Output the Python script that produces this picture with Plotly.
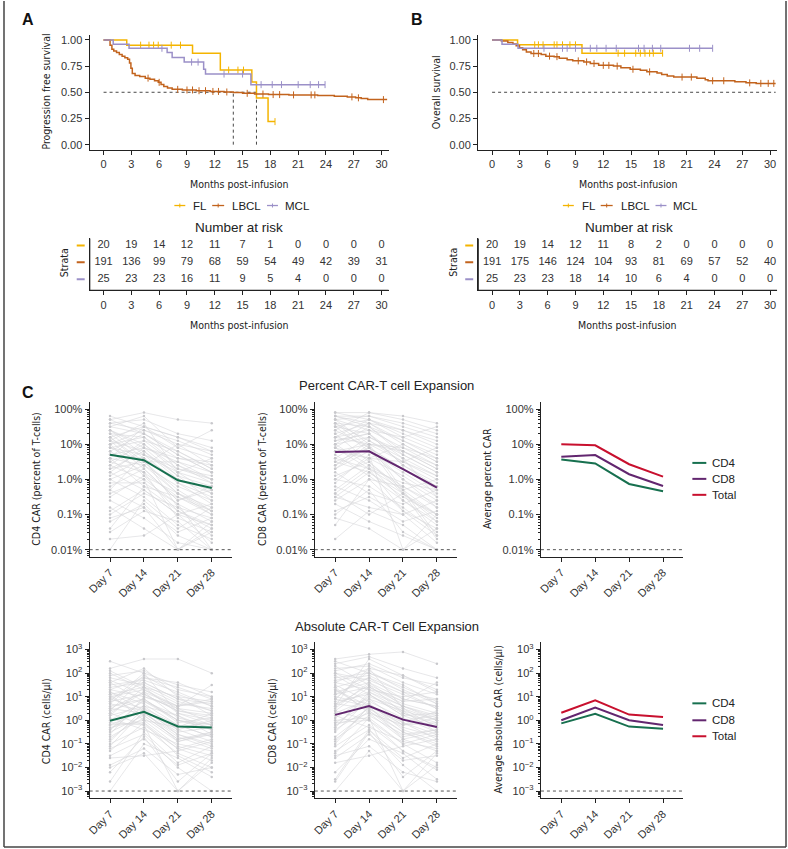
import plotly.graph_objects as go
import numpy as np

W, H = 788, 849
SANS = "Liberation Sans, Arial, sans-serif"
COND = "Liberation Sans Narrow, DejaVu Sans Condensed, Roboto Condensed, Roboto, sans-serif"
INK = "#222222"

FL_C = "#F4B400"
LBCL_C = "#C2631D"
MCL_C = "#9B90C8"
CD4_C = "#17704F"
CD8_C = "#62266F"
TOT_C = "#C8102E"
GRAY = "#D6D6DA"

# ---------------- Panel A: progression free survival ----------------
pfs_fl_t = [0, 2.5, 9.6, 12.6, 16.0, 16.5, 17.75, 18.5]
pfs_fl_s = [1.0, 0.95, 0.873, 0.712, 0.598, 0.446, 0.22, 0.22]
pfs_fl_cens = [4.0, 4.9, 5.4, 5.9, 7.3, 8.3, 13.5, 14.5, 15.1, 18.5]

pfs_lbcl_t = [0, 0.7, 0.9, 1.1, 1.4, 1.7, 2.0, 2.3, 2.6, 2.8, 2.95, 3.1, 3.4, 3.9, 4.5, 5.0, 5.5,
              5.9, 6.2, 6.5, 6.9, 7.4, 8.5, 10.0, 11.5, 13.0, 14.0, 15.0, 16.3, 17.8, 20.0, 23.1,
              24.9, 26.3, 27.2, 27.8, 28.5, 30.6]
pfs_lbcl_s = [1.0, 0.95, 0.91, 0.895, 0.88, 0.86, 0.845, 0.83, 0.815, 0.78, 0.73, 0.68, 0.66, 0.65,
              0.635, 0.625, 0.61, 0.595, 0.575, 0.555, 0.54, 0.528, 0.522, 0.515, 0.508, 0.503,
              0.497, 0.49, 0.483, 0.478, 0.475, 0.47, 0.463, 0.456, 0.447, 0.44, 0.43, 0.43]
pfs_lbcl_cens = [4.8, 6.0, 8.0, 9.0, 9.6, 10.3, 11.0, 11.8, 12.4, 13.3, 15.5, 17.2, 18.3, 19.0,
                 20.5, 22.4, 22.8, 26.8, 27.5, 30.2]

pfs_mcl_t = [0, 1.04, 2.75, 6.86, 7.4, 8.7, 10.8, 11.0, 15.9, 23.9]
pfs_mcl_s = [1.0, 0.959, 0.92, 0.88, 0.832, 0.788, 0.72, 0.674, 0.573, 0.573]
pfs_mcl_cens = [6.3, 9.5, 10.2, 13.0, 15.0, 17.0, 18.2, 19.2, 21.0, 22.3, 23.2, 23.9]

pfs_medians = [14.0, 16.5]

# ---------------- Panel B: overall survival ----------------
os_fl_t = [0, 2.75, 9.7, 18.4]
os_fl_s = [1.0, 0.953, 0.873, 0.873]
os_fl_cens = [4.6, 5.0, 5.5, 6.7, 7.0, 7.6, 8.4, 9.0, 13.6, 14.3, 15.5, 16.0, 16.5, 17.0, 17.4, 18.4]

os_lbcl_t = [0, 1.0, 1.7, 2.25, 2.6, 2.96, 3.3, 3.7, 4.2, 5.3, 5.8, 6.7, 7.25, 8.1, 8.7, 9.9,
             10.6, 11.5, 13.1, 13.9, 14.9, 16.0, 16.7, 17.8, 18.3, 18.9, 19.6, 22.1, 23.0, 23.3,
             26.2, 27.4, 28.5, 30.6]
os_lbcl_s = [1.0, 0.99, 0.975, 0.96, 0.945, 0.925, 0.905, 0.885, 0.87, 0.86, 0.845, 0.84, 0.825,
             0.81, 0.80, 0.79, 0.775, 0.757, 0.75, 0.735, 0.72, 0.71, 0.695, 0.685, 0.67, 0.655,
             0.645, 0.635, 0.62, 0.61, 0.60, 0.59, 0.585, 0.585]
os_lbcl_cens = [4.5, 5.0, 6.2, 7.0, 9.3, 10.2, 11.0, 12.0, 12.6, 13.5, 15.2, 17.0, 20.5, 21.5,
                23.8, 25.0, 27.8, 29.0, 29.8, 30.4]

os_mcl_t = [0, 1.07, 2.8, 23.8]
os_mcl_s = [1.0, 0.959, 0.92, 0.92]
os_mcl_cens = [5.6, 7.6, 8.1, 9.0, 10.6, 11.3, 12.3, 13.4, 15.8, 16.4, 17.3, 18.2, 21.3, 22.4, 23.8]

# ---------------- Number at risk ----------------
risk_times = [0, 3, 6, 9, 12, 15, 18, 21, 24, 27, 30]
risk_pfs_fl = [20, 19, 14, 12, 11, 7, 1, 0, 0, 0, 0]
risk_pfs_lbcl = [191, 136, 99, 79, 68, 59, 54, 49, 42, 39, 31]
risk_pfs_mcl = [25, 23, 23, 16, 11, 9, 5, 4, 0, 0, 0]
risk_os_fl = [20, 19, 14, 12, 11, 8, 2, 0, 0, 0, 0]
risk_os_lbcl = [191, 175, 146, 124, 104, 93, 81, 69, 57, 52, 40]
risk_os_mcl = [25, 23, 23, 18, 14, 10, 6, 4, 0, 0, 0]

strata = ["FL", "LBCL", "MCL"]

# ---------------- Panel C ----------------
days = ["Day 7", "Day 14", "Day 21", "Day 28"]

# individual patients, log10 values (percent of T-cells)
pct_cd4_log = [
    [1.6, 1.4, 1.0, 0.8], [1.2, 1.5, 0.9, 0.6], [0.9, 0.7, 0.2, -0.1], [0.3, 0.5, -0.4, -0.8],
    [-0.5, 0.1, -0.9, -1.3], [1.4, 0.9, 0.5, 0.2], [0.6, 0.4, -0.2, -0.6], [-1.2, -0.7, -1.6, -2.0],
    [1.0, 1.2, 0.6, 0.4], [0.2, -0.3, -1.0, -0.7], [1.7, 1.9, 1.7, 1.6], [0.8, 0.2, -0.5, -1.0],
    [-0.2, 0.3, -0.6, -0.3], [1.3, 0.6, 0.0, -0.4], [0.5, 1.0, 0.3, 0.1], [-0.8, -1.4, -2.0, -1.5],
    [1.1, 0.8, 0.1, -0.2], [0.0, -0.5, -1.3, -1.7], [1.5, 1.3, 0.8, 0.3], [0.4, 0.0, -0.7, -1.2],
    [-1.5, -0.9, -1.2, -2.0], [0.9, 1.1, 0.4, 0.0], [1.2, 0.5, -0.3, -0.9], [0.7, 0.9, 0.6, 0.5],
    [-0.3, -0.8, -1.5, -1.1], [1.8, 1.5, 1.2, 0.9], [0.1, 0.6, -0.1, -0.5], [0.6, -0.2, -0.9, -1.4],
    [1.0, 1.4, 1.1, 0.7], [-1.0, -0.4, -0.8, -1.6], [0.3, 0.8, 0.0, -0.3], [1.4, 1.0, 0.2, 0.6],
    [-0.6, -1.1, -1.8, -2.0], [0.8, 1.3, 0.7, 0.2], [1.1, 0.3, -0.6, -0.2], [-1.4, -0.2, -0.5, -0.9],
    [0.5, 0.2, -1.1, -1.5], [1.6, 1.7, 1.3, 1.1], [-2.0, -0.6, -1.4, -0.8], [0.2, 0.9, 0.1, -0.6],
    [1.2, 0.4, 1.0, 0.4], [-0.4, 0.0, -2.0, -1.2], [1.5, 1.8, 0.9, 1.4], [-1.7, -1.6, -1.0, -1.8],
    [0.4, 1.1, 0.8, 0.3], [-0.9, -0.3, -1.0, -1.3], [1.3, 1.2, 0.4, -0.1], [0.0, 0.4, -0.4, -1.0],
    [1.7, 1.3, 0.7, 0.2], [-0.3, 0.7, 0.3, 0.0], [0.7, 0.6, -0.8, -1.1], [1.0, 0.1, -0.4, -0.9],
    [-1.1, -0.8, -2.0, -1.4], [0.6, 1.5, 1.2, 0.8], [1.4, 0.7, -0.1, -0.7], [-0.1, -0.1, -0.7, -2.0],
    [0.9, 0.5, 0.5, 0.0], [1.1, 1.6, 0.2, -0.4],
]
pct_cd8_log = [
    [1.9, 1.9, 1.8, 1.6], [1.5, 1.7, 1.3, 0.9], [1.2, 1.0, 0.5, 0.0], [0.6, 1.2, 0.7, 0.2],
    [-0.4, 0.3, -0.3, -1.0], [1.7, 1.4, 0.9, 0.4], [0.9, 0.6, 0.1, -0.5], [-1.7, -0.9, -1.3, -2.0],
    [1.3, 1.6, 1.0, 0.5], [0.1, 0.5, -0.4, -1.2], [1.8, 1.8, 1.6, 1.3], [1.0, 0.4, -0.2, -0.8],
    [-0.6, 0.0, -0.9, -1.6], [1.4, 0.9, 0.3, -0.3], [0.4, 1.1, 0.6, 0.1], [-1.1, -1.4, -2.0, -1.4],
    [1.1, 1.3, 0.4, -0.1], [0.0, -0.2, -0.8, -1.5], [1.6, 1.5, 1.1, 0.7], [0.5, 0.2, -0.5, -1.0],
    [-0.9, -0.5, -1.0, -1.8], [1.0, 1.2, 0.8, 0.3], [1.5, 0.8, 0.0, -0.6], [0.8, 1.0, 0.9, 0.6],
    [-0.2, -0.6, -1.2, -0.9], [1.8, 1.6, 1.4, 1.0], [0.3, 0.8, 0.2, -0.4], [0.7, 0.1, -0.6, -1.3],
    [1.2, 1.4, 1.2, 0.8], [-0.5, 0.2, -0.4, -1.1], [0.4, 0.9, 0.3, -0.2], [1.6, 1.1, 0.5, 0.9],
    [-0.7, -1.2, -1.6, -2.0], [0.9, 1.5, 0.8, 0.4], [1.3, 0.5, -0.3, 0.0], [-1.3, 0.0, -0.2, -0.7],
    [0.6, 0.3, -0.9, -1.4], [1.7, 1.8, 1.5, 1.2], [0.2, -0.4, -0.7, -0.3], [1.1, 1.3, 0.6, -0.5],
    [0.8, 0.6, 1.0, 0.5], [-0.1, 0.7, -2.0, -1.0], [1.9, 1.7, 1.2, 1.5], [-0.4, -1.0, -0.4, -1.7],
    [1.4, 1.9, 1.7, 1.4], [-0.3, 0.4, -0.6, -1.2], [1.8, 1.5, 0.7, 0.2], [0.5, 0.9, 0.0, -0.8],
    [1.2, 1.7, 1.4, 1.1], [-1.0, -0.3, -1.5, -2.0], [0.9, 0.3, -0.1, -0.3], [1.5, 1.3, 0.4, -0.2],
    [0.0, 0.6, 0.5, 0.1], [1.6, 0.9, -0.4, -1.0], [-0.5, -0.8, -1.0, -0.6], [1.0, 1.6, 1.1, 0.6],
    [0.3, 1.0, -0.3, -1.6], [1.7, 1.0, 0.8, 0.3],
]
# individual patients, log10 values (cells/ul)
abs_cd4_log = [
    [2.5, 2.0, 1.5, 1.2], [1.6, 2.2, 1.0, 0.8], [1.0, 1.3, 0.5, 0.3], [0.4, 0.9, 0.0, -0.2],
    [-0.5, 0.2, -0.8, -0.6], [1.3, 1.0, 0.6, 0.9], [0.2, 0.6, -0.4, -0.9], [-1.5, -0.8, -1.9, -1.4],
    [1.5, 1.7, 1.2, 0.6], [-0.3, 0.0, -1.1, -1.5], [2.2, 2.6, 2.6, 2.0], [0.7, 0.4, -0.3, -0.1],
    [-1.0, -0.3, -1.4, -2.0], [1.1, 1.4, 0.3, 0.0], [0.0, 0.8, 0.2, -0.4], [-2.0, -1.4, -3.0, -1.8],
    [0.9, 0.5, -0.6, -1.0], [-0.7, 0.1, -0.9, -0.5], [1.8, 1.5, 0.8, 0.4], [0.3, -0.2, -1.2, -0.8],
    [-3.0, -1.0, -1.6, -2.4], [0.8, 1.1, 0.4, 0.2], [1.2, 0.7, -0.2, -0.7], [-0.2, 0.4, -0.5, -0.3],
    [-1.2, -0.6, -2.0, -3.0], [1.9, 2.1, 1.3, 1.0], [0.5, 1.2, 0.1, -0.2], [0.1, -0.4, -1.0, -1.3],
    [1.4, 1.6, 0.9, 0.7], [-0.8, 0.3, -0.7, -1.2], [0.6, 0.9, -0.1, 0.1], [-1.6, -1.5, -1.3, -0.9],
    [1.0, 0.2, -0.8, -0.5], [-0.4, 0.6, 0.2, -0.6], [0.2, 1.4, 0.7, 0.5], [-2.6, -0.5, -1.8, -1.1],
    [1.6, 0.8, 0.0, -0.4], [0.7, 1.9, 1.1, 0.6], [-0.1, -0.2, -3.0, -1.6], [1.1, 0.0, -0.3, 0.3],
    [-0.6, 1.0, 0.5, -0.1], [2.0, 1.3, 0.6, 1.5], [-1.9, -1.2, -2.3, -2.0], [0.4, 1.8, 1.6, 1.0],
    [1.3, 1.8, 1.4, 0.9], [-0.9, 0.5, -0.2, -0.7], [0.5, 0.3, -0.6, -1.1], [1.7, 1.1, 0.4, 0.1],
    [-1.3, -0.1, -1.2, -1.7], [0.9, 1.6, 0.9, 0.4], [-0.4, 0.9, 0.0, -0.3], [1.2, 0.4, -0.9, -0.6],
    [-2.2, -0.7, -2.6, -1.4], [0.3, 1.2, 0.6, 0.8], [2.1, 1.4, 1.0, 0.2], [-0.2, -0.1, -1.5, -2.2],
    [0.8, 2.0, 0.3, -0.2], [-1.1, 0.4, -0.4, 0.0],
]
abs_cd8_log = [
    [2.6, 2.8, 2.9, 2.4], [2.1, 2.4, 1.8, 1.5], [1.4, 1.8, 0.9, 0.6], [0.7, 1.2, 0.4, 0.0],
    [-0.4, 0.5, -0.3, -0.7], [1.6, 1.3, 1.0, 1.2], [0.3, 0.9, -0.1, -0.8], [-1.6, -0.6, -1.7, -1.5],
    [1.8, 2.0, 1.4, 0.8], [-0.2, 0.3, -0.8, -1.3], [2.4, 2.7, 2.2, 1.8], [0.9, 0.6, 0.0, 0.2],
    [-1.1, -0.2, -1.3, -2.0], [1.2, 1.6, 0.6, 0.1], [0.1, 1.0, 0.5, -0.3], [-3.0, -1.3, -3.0, -1.9],
    [1.0, 0.7, -0.4, -0.9], [-0.8, 0.2, -0.6, -0.4], [2.0, 1.7, 1.1, 0.5], [0.4, 0.0, -1.0, -0.6],
    [-2.2, -0.8, -1.4, -2.5], [1.1, 1.4, 0.7, 0.3], [1.5, 0.8, 0.1, -0.5], [-0.1, 0.7, -0.2, -0.1],
    [-1.3, -0.4, -1.9, -3.0], [2.2, 2.3, 1.6, 1.1], [0.6, 1.5, 0.3, -0.1], [0.2, -0.3, -0.9, -1.2],
    [1.7, 1.9, 1.2, 0.9], [-0.7, 0.4, -0.5, -1.1], [0.8, 1.1, 0.2, 0.3], [-1.8, -1.5, -1.1, -0.8],
    [1.3, 0.4, -0.7, -0.4], [-0.5, 0.9, 0.4, -0.5], [0.5, 1.6, 0.9, 0.6], [-2.5, -0.4, -1.6, -1.0],
    [1.9, 1.1, 0.2, -0.3], [0.9, 2.1, 1.3, 0.7], [0.0, 0.1, -3.0, -1.4], [1.4, 0.3, -0.2, 0.4],
    [-0.3, 1.2, 0.6, 0.0], [2.3, 1.5, 0.8, 1.6], [-1.5, -1.1, -2.2, -2.6], [0.6, 2.6, 1.9, 1.2],
    [1.6, 2.2, 1.9, 1.3], [-0.9, 0.6, -0.1, -0.6], [0.7, 0.5, -0.5, -1.0], [2.0, 1.3, 0.6, 0.2],
    [-1.4, 0.1, -1.0, -1.8], [1.1, 1.8, 1.2, 0.5], [-0.3, 1.1, 0.3, -0.2], [1.3, 0.6, -0.8, -0.5],
    [-2.6, -0.5, -2.4, -1.3], [0.4, 1.4, 0.8, 0.9], [2.5, 2.0, 1.5, 0.7], [-0.1, 0.0, -1.3, -2.1],
    [0.9, 2.2, 0.5, 0.0], [-1.0, 0.6, -0.2, 0.1],
]

pct_cd4_mean = [5.0, 3.5, 0.94, 0.57]
pct_cd8_mean = [6.0, 6.3, 1.96, 0.58]
avg_pct_cd4 = [3.7, 2.85, 0.74, 0.46]
avg_pct_cd8 = [4.4, 4.9, 1.4, 0.65]
avg_pct_tot = [10.0, 9.3, 2.7, 1.2]
abs_cd4_mean = [0.95, 2.3, 0.55, 0.49]
abs_cd8_mean = [1.7, 4.0, 1.07, 0.52]
avg_abs_cd4 = [0.74, 1.9, 0.54, 0.44]
avg_abs_cd8 = [1.0, 3.5, 1.0, 0.63]
avg_abs_tot = [2.1, 7.1, 1.75, 1.38]

pct_lod = 0.01
abs_lod = 0.001
pct_ticks = [0.01, 0.1, 1, 10, 100]
pct_ticktext = ["0.01%", "0.1%", "1.0%", "10%", "100%"]
abs_ticks = [1e-3, 1e-2, 1e-1, 1, 10, 100, 1000]
abs_ticktext = ["10<sup>−3</sup>", "10<sup>−2</sup>", "10<sup>−1</sup>", "10<sup>0</sup>",
                "10<sup>1</sup>", "10<sup>2</sup>", "10<sup>3</sup>"]

# ======================================================================
def px(x):
    return x / W


def py(y):
    return 1 - y / H


def dx(a, b):
    return [a / W, b / W]


def dy(top, bottom):
    return [1 - bottom / H, 1 - top / H]


def surv_at(ts, ss, t):
    i = int(np.searchsorted(np.array(ts), t, side="right")) - 1
    return ss[max(i, 0)]


fig = go.Figure()

base_axis = dict(showline=True, linecolor=INK, linewidth=1.3, ticks="outside", ticklen=4,
                 tickcolor=INK, tickwidth=1, showgrid=False, zeroline=False,
                 tickfont=dict(family=SANS, size=11, color="#333"), fixedrange=True)

km_ticks = [0, 3, 6, 9, 12, 15, 18, 21, 24, 27, 30]
layout_axes = {}
for i, (x0, x1) in enumerate([(87, 387), (477, 777)]):
    n = i + 1
    layout_axes[f"xaxis{n}"] = dict(base_axis, domain=dx(x0, x1), range=[-1.5, 30.75],
                                    tickvals=km_ticks, anchor=f"y{n}")
    layout_axes[f"yaxis{n}"] = dict(base_axis, domain=dy(33.75, 149.25), range=[-0.05, 1.05],
                                    tickvals=[0, 0.25, 0.5, 0.75, 1.0],
                                    ticktext=["0.00", "0.25", "0.50", "0.75", "1.00"],
                                    anchor=f"x{n}")
for i, (x0, x1) in enumerate([(87, 387), (477, 777)]):
    n = i + 3
    layout_axes[f"xaxis{n}"] = dict(base_axis, domain=dx(x0, x1), range=[-1.5, 30.75],
                                    tickvals=km_ticks, anchor=f"y{n}")
    layout_axes[f"yaxis{n}"] = dict(base_axis, domain=dy(238, 290), range=[0.35, 3.41],
                                    tickvals=[1, 2, 3], ticklen=0, showticklabels=False,
                                    anchor=f"x{n}")

cols = [(87, 230), (313, 456), (540, 683)]
rows = [((402, 557), [-2.2, 2.2], pct_ticks, pct_ticktext),
        ((643, 799), [-3.3, 3.3], abs_ticks, abs_ticktext)]
n = 5
cax = {}
for r, (ydom, yr, tv, tt) in enumerate(rows):
    for c, (x0, x1) in enumerate(cols):
        layout_axes[f"xaxis{n}"] = dict(base_axis, domain=dx(x0, x1), range=[-0.6, 3.6],
                                        tickvals=[0, 1, 2, 3], ticktext=days, tickangle=-45,
                                        anchor=f"y{n}")
        layout_axes[f"yaxis{n}"] = dict(base_axis, domain=dy(*ydom), range=yr, type="log",
                                        tickvals=tv, ticktext=tt, anchor=f"x{n}",
                                        minor=dict(ticks="outside", ticklen=2, tickcolor=INK,
                                                   tickwidth=0.7, dtick="D1", showgrid=False))
        cax[(r, c)] = n
        n += 1


def ax(k):
    return ("x" if k == 1 else f"x{k}"), ("y" if k == 1 else f"y{k}")


# ---------------- KM traces ----------------
km_sets = [
    (1, [(pfs_fl_t, pfs_fl_s, pfs_fl_cens, FL_C), (pfs_lbcl_t, pfs_lbcl_s, pfs_lbcl_cens, LBCL_C),
         (pfs_mcl_t, pfs_mcl_s, pfs_mcl_cens, MCL_C)]),
    (2, [(os_fl_t, os_fl_s, os_fl_cens, FL_C), (os_lbcl_t, os_lbcl_s, os_lbcl_cens, LBCL_C),
         (os_mcl_t, os_mcl_s, os_mcl_cens, MCL_C)]),
]
DOT = dict(color="#333", width=0.9, dash="dot")
xa, ya = ax(1)
fig.add_trace(go.Scatter(x=[0, max(pfs_medians)], y=[0.5, 0.5], mode="lines", xaxis=xa, yaxis=ya,
                         line=DOT, showlegend=False))
for m in pfs_medians:
    fig.add_trace(go.Scatter(x=[m, m], y=[0, 0.5], mode="lines", xaxis=xa, yaxis=ya,
                             line=DOT, showlegend=False))
xa, ya = ax(2)
fig.add_trace(go.Scatter(x=[0, max(os_lbcl_t)], y=[0.5, 0.5], mode="lines", xaxis=xa, yaxis=ya,
                         line=DOT, showlegend=False))

for k, sets in km_sets:
    xa, ya = ax(k)
    for ts, ss, cens, col in sets:
        fig.add_trace(go.Scatter(x=ts, y=ss, mode="lines", line=dict(color=col, width=1.5, shape="hv"),
                                 xaxis=xa, yaxis=ya, showlegend=False))
        fig.add_trace(go.Scatter(x=cens, y=[surv_at(ts, ss, c) for c in cens], mode="markers",
                                 marker=dict(symbol="line-ns", size=5, line=dict(color=col, width=1)),
                                 xaxis=xa, yaxis=ya, showlegend=False))

# ---------------- risk tables ----------------
shapes = []
risk_sets = [(3, [risk_pfs_fl, risk_pfs_lbcl, risk_pfs_mcl], 74),
             (4, [risk_os_fl, risk_os_lbcl, risk_os_mcl], 464)]
strata_cols = [FL_C, LBCL_C, MCL_C]
for k, tabs, dash_x in risk_sets:
    xa, ya = ax(k)
    for j, vals in enumerate(tabs):
        yv = 3 - j
        fig.add_trace(go.Scatter(x=risk_times, y=[yv] * len(risk_times), mode="text",
                                 text=[str(v) for v in vals],
                                 textfont=dict(family=SANS, size=11, color="#333"),
                                 xaxis=xa, yaxis=ya, showlegend=False))
        shapes.append(dict(type="line", xref="paper", yref=ya, x0=px(dash_x), x1=px(dash_x + 8),
                           y0=yv, y1=yv, line=dict(color=strata_cols[j], width=2)))
    # explicit axis lines of the risk table (drawn along its own axes)
    shapes.append(dict(type="line", xref=f"{xa} domain", yref=f"{ya} domain", x0=0, x1=1,
                       y0=0, y1=0, line=dict(color=INK, width=1.3)))
    shapes.append(dict(type="line", xref=f"{xa} domain", yref=f"{ya} domain", x0=0, x1=0,
                       y0=0, y1=1, line=dict(color=INK, width=1.3)))

# ---------------- Panel C traces ----------------
xs = [0, 1, 2, 3]


def spaghetti(k, data):
    xa, ya = ax(k)
    X, Y = [], []
    for row in data:
        X += xs + [None]
        Y += [10 ** v for v in row] + [None]
    fig.add_trace(go.Scatter(x=X, y=Y, mode="lines+markers", xaxis=xa, yaxis=ya,
                             line=dict(color=GRAY, width=0.6),
                             marker=dict(size=2.5, color="#C8C8CC"),
                             connectgaps=False, showlegend=False))


def lod(k, v):
    xa, ya = ax(k)
    fig.add_trace(go.Scatter(x=[-0.6, 3.6], y=[v, v], mode="lines", xaxis=xa, yaxis=ya,
                             line=dict(color="#444", width=0.9, dash="dot"), showlegend=False))


def mean_line(k, vals, col):
    xa, ya = ax(k)
    fig.add_trace(go.Scatter(x=xs, y=vals, mode="lines", xaxis=xa, yaxis=ya,
                             line=dict(color=col, width=2), showlegend=False))


spaghetti(cax[(0, 0)], pct_cd4_log)
lod(cax[(0, 0)], pct_lod)
mean_line(cax[(0, 0)], pct_cd4_mean, CD4_C)
spaghetti(cax[(0, 1)], pct_cd8_log)
lod(cax[(0, 1)], pct_lod)
mean_line(cax[(0, 1)], pct_cd8_mean, CD8_C)
lod(cax[(0, 2)], pct_lod)
mean_line(cax[(0, 2)], avg_pct_cd4, CD4_C)
mean_line(cax[(0, 2)], avg_pct_cd8, CD8_C)
mean_line(cax[(0, 2)], avg_pct_tot, TOT_C)

spaghetti(cax[(1, 0)], abs_cd4_log)
lod(cax[(1, 0)], abs_lod)
mean_line(cax[(1, 0)], abs_cd4_mean, CD4_C)
spaghetti(cax[(1, 1)], abs_cd8_log)
lod(cax[(1, 1)], abs_lod)
mean_line(cax[(1, 1)], abs_cd8_mean, CD8_C)
lod(cax[(1, 2)], abs_lod)
mean_line(cax[(1, 2)], avg_abs_cd4, CD4_C)
mean_line(cax[(1, 2)], avg_abs_cd8, CD8_C)
mean_line(cax[(1, 2)], avg_abs_tot, TOT_C)

# ---------------- annotations & shapes ----------------
ann = []


def text(x, y, s, size=11, family=SANS, angle=0, xanchor="center", bold=False, color="#222"):
    ann.append(dict(x=px(x), y=py(y), xref="paper", yref="paper", text=(f"<b>{s}</b>" if bold else s),
                    showarrow=False, textangle=angle, xanchor=xanchor, yanchor="middle",
                    font=dict(family=family, size=size, color=color)))


def hline(x0, x1, y, col, w=1.5):
    shapes.append(dict(type="line", xref="paper", yref="paper", x0=px(x0), x1=px(x1),
                       y0=py(y), y1=py(y), line=dict(color=col, width=w)))


def vline(x, y0, y1, col, w=1.0):
    shapes.append(dict(type="line", xref="paper", yref="paper", x0=px(x), x1=px(x),
                       y0=py(y0), y1=py(y1), line=dict(color=col, width=w)))


text(25, 19, "A", size=16, family="Liberation Sans, Arial", bold=True, color="#111")
text(416, 19, "B", size=16, family="Liberation Sans, Arial", bold=True, color="#111")
text(25, 392, "C", size=16, family="Liberation Sans, Arial", bold=True, color="#111")

TS = 10.5
text(43, 91, "Progression free survival", size=TS, family=COND, angle=-90)
text(434, 91, "Overall survival", size=TS, family=COND, angle=-90)
text(237, 183, "Months post-infusion", size=TS, family=COND)
text(628, 183, "Months post-infusion", size=TS, family=COND)
text(237, 325, "Months post-infusion", size=TS, family=COND)
text(627, 325, "Months post-infusion", size=TS, family=COND)
text(62, 262, "Strata", size=TS, family=COND, angle=-90)
text(452, 262, "Strata", size=TS, family=COND, angle=-90)
text(237, 227, "Number at risk", size=13.5)
text(628, 227, "Number at risk", size=13.5)

for off in [0, 390]:
    for (l0, l1, tx), name, col in zip([(172, 183, 189), (210, 222, 228), (265, 276, 281)],
                                       strata, strata_cols):
        hline(l0 + off, l1 + off, 205, col, 1.3)
        vline((l0 + l1) / 2 + off, 203, 207, col, 1.0)
        text(tx + off, 205, name, size=11.5, xanchor="left")

text(385, 385, "Percent CAR-T cell Expansion", size=13)
text(385, 627, "Absolute CAR-T Cell Expansion", size=13)
text(33, 479, "CD4 CAR (percent of T-cells)", size=TS, family=COND, angle=-90)
text(260, 479, "CD8 CAR (percent of T-cells)", size=TS, family=COND, angle=-90)
text(486, 479, "Average percent CAR", size=TS, family=COND, angle=-90)
text(43, 722, "CD4 CAR (cells/µl)", size=TS, family=COND, angle=-90)
text(270, 722, "CD8 CAR (cells/µl)", size=TS, family=COND, angle=-90)
text(497, 720, "Average absolute CAR (cells/µl)", size=TS, family=COND, angle=-90)

for ys in [(463, 479, 495), (704, 721, 737)]:
    for yy, name, col in zip(ys, ["CD4", "CD8", "Total"], [CD4_C, CD8_C, TOT_C]):
        hline(692, 706, yy, col, 2)
        text(710, yy, name, size=11.5, xanchor="left")

vline(1, 0, 848, "#444", 1.5)
vline(786, 0, 848, "#444", 1.5)
hline(1, 786, 848, "#444", 1.5)

fig.update_layout(width=W, height=H, margin=dict(l=0, r=0, t=0, b=0),
                  paper_bgcolor="white", plot_bgcolor="white", showlegend=False,
                  annotations=ann, shapes=shapes, **layout_axes)

fig.write_html("out.html", config={"displayModeBar": False},
               post_script="document.body.style.margin='0px';document.body.style.padding='0px';")
